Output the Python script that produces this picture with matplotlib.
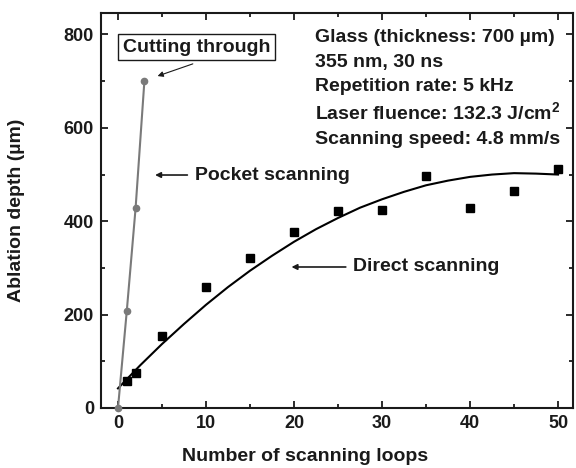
import matplotlib
matplotlib.use("Agg")
import matplotlib.pyplot as plt
from matplotlib.ticker import MultipleLocator

plt.rcParams['font.family'] = ['Liberation Sans', 'DejaVu Sans']
plt.rcParams['font.weight'] = 'bold'
plt.rcParams['mathtext.fontset'] = 'custom'
plt.rcParams['mathtext.bf'] = 'Liberation Sans:bold'
plt.rcParams['mathtext.rm'] = 'Liberation Sans:bold'

# direct scanning (squares)
loops = [1, 2, 5, 10, 15, 20, 25, 30, 35, 40, 45, 50]
depth = [57, 74, 154, 260, 322, 376, 423, 425, 496, 429, 465, 512]

# fitted curve
fit_x = [0, 2.5, 5, 7.5, 10, 12.5, 15, 17.5, 20, 22.5, 25, 27.5, 30,
         32.5, 35, 37.5, 40, 42.5, 45, 47.5, 50]
fit_y = [42, 91, 137, 180, 221, 259, 294, 326, 356, 383, 407, 429, 447,
         463, 477, 487, 495, 500, 503, 502, 500]

# pocket scanning (grey circles)
pocket_x = [0, 1, 2, 3]
pocket_y = [0, 208, 428, 700]

info = ["Glass (thickness: 700 \u00b5m)",
        "355 nm, 30 ns",
        "Repetition rate: 5 kHz",
        "Laser fluence: 132.3 J/cm$^{\\mathrm{2}}$",
        "Scanning speed: 4.8 mm/s"]
info_y = [793, 739, 688, 632, 576]

ink = '#1a1a1a'

fig = plt.figure(figsize=(5.76, 4.68), dpi=100)
ax = fig.add_axes([101/576, 1 - 408/468, 472/576, 395/468])

ax.plot(fit_x, fit_y, color='black', lw=1.5, zorder=2)
ax.plot(loops, depth, 's', color='black', ms=5.5, zorder=3)
ax.plot(pocket_x, pocket_y, '-o', color='#7a7a7a', lw=1.5, ms=4.5, zorder=4,
        clip_on=False)

ax.set_xlim(-1.93, 51.7)
ax.set_ylim(0, 846)
ax.xaxis.set_major_locator(MultipleLocator(10))
ax.xaxis.set_minor_locator(MultipleLocator(5))
ax.yaxis.set_major_locator(MultipleLocator(200))
ax.yaxis.set_minor_locator(MultipleLocator(100))
ax.tick_params(which='both', direction='in', top=True, right=True,
               width=1.3, labelsize=13, colors=ink, pad=5)
ax.tick_params(which='major', length=5)
ax.tick_params(which='minor', length=3)
for lab in ax.get_xticklabels() + ax.get_yticklabels():
    lab.set_fontweight('bold')
for s in ax.spines.values():
    s.set_linewidth(1.5)
    s.set_color(ink)

ax.set_xlabel("Number of scanning loops", fontsize=14, fontweight='bold',
              color=ink)
ax.set_ylabel("Ablation depth (\u00b5m)", fontsize=14, fontweight='bold',
              color=ink)
ax.xaxis.set_label_coords((305 - 101) / 472, -0.101)
ax.yaxis.set_label_coords(-0.16, 0.5)

for t, yy in zip(info, info_y):
    ax.text(22.4, yy, t, fontsize=14, fontweight='bold', va='center',
            ha='left', color=ink)

ax.text(8.9, 773, "Cutting through", fontsize=14, fontweight='bold',
        ha='center', va='center', color=ink,
        bbox=dict(boxstyle='square,pad=0.25', fc='white', ec=ink, lw=1))
ax.annotate("", xy=(4.2, 709), xytext=(8.8, 739),
            arrowprops=dict(arrowstyle='-|>', color=ink, lw=0.8,
                            mutation_scale=8))

ax.text(8.75, 499, "Pocket scanning", fontsize=14, fontweight='bold',
        ha='left', va='center', color=ink)
ax.annotate("", xy=(3.9, 499), xytext=(8.2, 499),
            arrowprops=dict(arrowstyle='-|>', color=ink, lw=1.2,
                            mutation_scale=8))

ax.text(26.7, 302, "Direct scanning", fontsize=14, fontweight='bold',
        ha='left', va='center', color=ink)
ax.annotate("", xy=(19.4, 302), xytext=(26.2, 302),
            arrowprops=dict(arrowstyle='-|>', color=ink, lw=1.2,
                            mutation_scale=8))

fig.savefig("out.png", dpi=100)
